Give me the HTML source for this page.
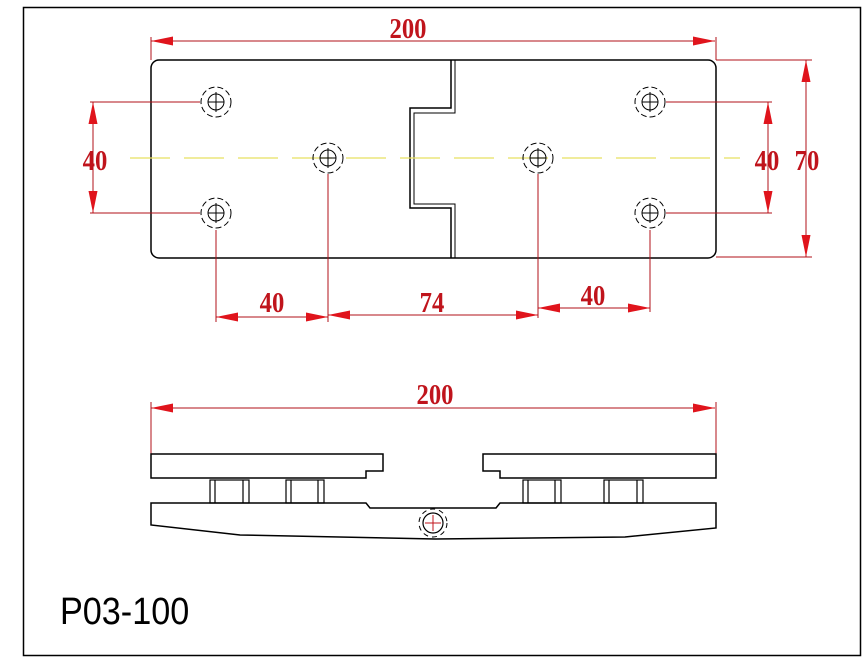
<!DOCTYPE html>
<html><head><style>html,body{margin:0;padding:0;background:#fff}svg{display:block}</style></head>
<body>
<svg width="867" height="661" viewBox="0 0 867 661" xmlns="http://www.w3.org/2000/svg">
<defs>
<marker id="a" viewBox="0 0 22 10" refX="22" refY="5" markerWidth="22" markerHeight="10" markerUnits="userSpaceOnUse" orient="auto-start-reverse"><path d="M0,0.5 L22,5 L0,9.5 Z" fill="#e0141c"/></marker>
<g id="hole"><circle r="15" fill="none" stroke="#000" stroke-width="1" stroke-dasharray="6,3"/><circle r="8" fill="none" stroke="#000" stroke-width="1"/><path d="M-8,0H8M0,-10V10" stroke="#000" stroke-width="1"/></g>
</defs>
<rect x="23.5" y="7.5" width="837" height="648" fill="none" stroke="#000" stroke-width="1.5"/>
<g fill="none" stroke="#000" stroke-width="1.5">
<rect x="151" y="60" width="565" height="198" rx="8"/>
<path d="M451,60V108H410V208H451V258"/>
<path d="M455,60V113H414V204H455V258" stroke-width="1"/>
</g>
<line x1="130" y1="158" x2="740" y2="158" stroke="#e8e060" stroke-width="1.2" stroke-dasharray="40,14"/>
<use href="#hole" x="216" y="102"/><use href="#hole" x="216" y="213"/>
<use href="#hole" x="328" y="158"/><use href="#hole" x="538" y="158"/>
<use href="#hole" x="650" y="102"/><use href="#hole" x="650" y="213"/>
<g stroke="#b01018" stroke-width="1" fill="none">
<path d="M151,37V60M716,37V60"/>
<line x1="151" y1="41" x2="715" y2="41" marker-start="url(#a)" marker-end="url(#a)"/>
<path d="M716,60H812M716,257H812"/>
<line x1="806" y1="60" x2="806" y2="257" marker-start="url(#a)" marker-end="url(#a)"/>
<path d="M666,102H772M666,213H772"/>
<line x1="768" y1="102" x2="768" y2="213" marker-start="url(#a)" marker-end="url(#a)"/>
<path d="M90,102H200M90,213H200"/>
<line x1="93" y1="102" x2="93" y2="213" marker-start="url(#a)" marker-end="url(#a)"/>
<path d="M216,230V322M328,174V322M538,174V318M650,230V312"/>
<line x1="216" y1="317" x2="328" y2="317" marker-start="url(#a)" marker-end="url(#a)"/>
<line x1="328" y1="315" x2="538" y2="315" marker-start="url(#a)" marker-end="url(#a)"/>
<line x1="538" y1="308" x2="650" y2="308" marker-start="url(#a)" marker-end="url(#a)"/>
<path d="M151,402V454M716,402V454"/>
<line x1="151" y1="408" x2="715" y2="408" marker-start="url(#a)" marker-end="url(#a)"/>
</g>
<g fill="#c0141c" font-family="Liberation Serif, serif" font-size="29" font-weight="bold" text-anchor="middle">
<text transform="translate(408,38) scale(0.85,1)">200</text>
<text transform="translate(807,170) scale(0.85,1)">70</text>
<text transform="translate(767,170) scale(0.85,1)">40</text>
<text transform="translate(95,170) scale(0.85,1)">40</text>
<text transform="translate(272,312) scale(0.85,1)">40</text>
<text transform="translate(432,312) scale(0.85,1)">74</text>
<text transform="translate(593,305) scale(0.85,1)">40</text>
<text transform="translate(435,404) scale(0.85,1)">200</text>
</g>
<g fill="none" stroke="#000" stroke-width="1.5">
<path d="M151,454H383V471H366V478H151Z"/>
<path d="M716,454H483V471H500V478H716Z"/>
<path d="M151,503H366L370,508H496L500,503H716V528L625,537L435,539L240,535L151,525Z"/>
</g>
<g fill="none" stroke="#000" stroke-width="1.2">
<rect x="210" y="480" width="39" height="23"/><path d="M215,480V503M243,480V503"/>
<rect x="286" y="480" width="38" height="23"/><path d="M291,480V503M318,480V503"/>
<rect x="523" y="480" width="38" height="23"/><path d="M528,480V503M555,480V503"/>
<rect x="604" y="480" width="39" height="23"/><path d="M609,480V503M637,480V503"/>
<circle cx="433" cy="523" r="10"/>
<circle cx="433" cy="523" r="14" stroke-dasharray="5,4" stroke-width="1"/>
</g>
<path d="M425,523H441M433,515V531" stroke="#c0141c" stroke-width="1"/>
<text transform="translate(60,624) scale(0.9,1)" font-family="Liberation Sans, sans-serif" font-size="38" fill="#000">P03-100</text>
</svg>
</body></html>
